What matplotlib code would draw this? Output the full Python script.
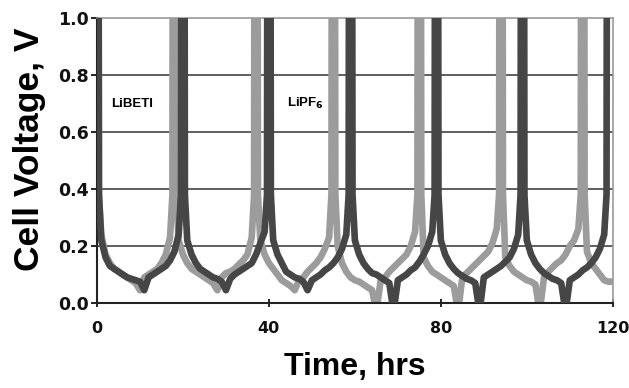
import matplotlib
matplotlib.use("Agg")
import matplotlib.pyplot as plt

# LiBETI (dark) - time in hrs, cell voltage in V
t_libeti = [0, 0.35, 0.45, 1, 2, 3, 4, 5, 6, 7, 8, 9, 10, 11, 12, 13, 14, 15, 16, 17, 18, 19,
	19.55, 19.65, 20.35, 20.45, 21, 22, 23, 24, 25, 26, 27, 28, 29, 30, 31, 32, 33, 34, 35, 36, 37, 38, 39,
	39.55, 39.65, 40.35, 40.45, 41, 42, 43, 44, 45, 46, 47, 48, 49, 50, 51, 52, 53, 54, 55, 56, 57, 58,
	58.55, 58.65, 59.35, 59.45, 60, 61, 62, 63, 64, 65, 66, 67, 68, 69, 70, 71, 72, 73, 74, 75, 76, 77, 78,
	78.55, 78.65, 79.35, 79.45, 80, 81, 82, 83, 84, 85, 86, 87, 88, 89, 90, 91, 92, 93, 94, 95, 96, 97, 98,
	98.55, 98.65, 99.35, 99.45, 100, 101, 102, 103, 104, 105, 106, 107, 108, 109, 110, 111, 112, 113, 114, 115, 116, 117, 118,
	118.55, 118.65, 120]
v_libeti = [1.6, 1.6, 0.38, 0.22, 0.16, 0.13, 0.12, 0.11, 0.10, 0.09, 0.085, 0.08, 0.075, 0.045, 0.09, 0.10, 0.11, 0.12, 0.13, 0.15, 0.18, 0.24,
	0.38, 1.6, 1.6, 0.38, 0.22, 0.17, 0.14, 0.12, 0.11, 0.10, 0.09, 0.085, 0.075, 0.045, 0.085, 0.10, 0.11, 0.12, 0.13, 0.14, 0.17, 0.21, 0.25,
	0.38, 1.6, 1.6, 0.38, 0.22, 0.17, 0.14, 0.11, 0.10, 0.09, 0.085, 0.075, 0.045, 0.08, 0.09, 0.10, 0.115, 0.125, 0.14, 0.16, 0.19, 0.24,
	0.38, 1.6, 1.6, 0.38, 0.22, 0.17, 0.14, 0.12, 0.105, 0.10, 0.09, 0.08, 0.07, -0.03, 0.08, 0.09, 0.10, 0.115, 0.125, 0.145, 0.17, 0.20, 0.25,
	0.38, 1.6, 1.6, 0.38, 0.22, 0.17, 0.14, 0.12, 0.105, 0.095, 0.085, 0.08, 0.07, -0.03, 0.09, 0.10, 0.11, 0.12, 0.13, 0.145, 0.16, 0.19, 0.24,
	0.38, 1.6, 1.6, 0.38, 0.22, 0.17, 0.14, 0.12, 0.105, 0.095, 0.085, 0.08, 0.07, -0.03, 0.08, 0.09, 0.10, 0.115, 0.125, 0.14, 0.16, 0.19, 0.24,
	0.38, 1.6, 1.6]

# LiPF6 (light)
t_lipf6 = [0, 0.35, 0.45, 1, 2, 3, 4, 5, 6, 7, 8, 9, 10, 11, 12, 13, 14, 15, 16, 17,
	17.55, 17.65, 18.35, 18.45, 19, 20, 21, 22, 23, 24, 25, 26, 27, 28, 29, 30, 31, 32, 33, 34, 35, 36,
	36.55, 36.65, 37.35, 37.45, 38, 39, 40, 41, 42, 43, 44, 45, 46, 47, 48, 49, 50, 51, 52, 53, 54,
	54.55, 54.65, 55.35, 55.45, 56, 57, 58, 59, 60, 61, 62, 63, 64, 65, 66, 67, 68, 69, 70, 71, 72, 73, 74,
	74.55, 74.65, 75.35, 75.45, 76, 77, 78, 79, 80, 81, 82, 83, 84, 85, 86, 87, 88, 89, 90, 91, 92, 93,
	93.55, 93.65, 94.35, 94.45, 95, 96, 97, 98, 99, 100, 101, 102, 103, 104, 105, 106, 107, 108, 109, 110, 111, 112,
	112.55, 112.65, 113.35, 113.45, 114, 115, 116, 117, 118, 119, 120]
v_lipf6 = [1.6, 1.6, 0.38, 0.24, 0.17, 0.14, 0.12, 0.11, 0.10, 0.09, 0.08, 0.07, 0.045, 0.09, 0.10, 0.11, 0.12, 0.14, 0.17, 0.23,
	0.38, 1.6, 1.6, 0.38, 0.22, 0.17, 0.14, 0.12, 0.11, 0.10, 0.09, 0.08, 0.07, 0.045, 0.09, 0.105, 0.11, 0.12, 0.135, 0.15, 0.17, 0.23,
	0.38, 1.6, 1.6, 0.38, 0.22, 0.17, 0.14, 0.12, 0.10, 0.08, 0.07, 0.06, 0.045, 0.08, 0.09, 0.11, 0.125, 0.14, 0.16, 0.19, 0.23,
	0.38, 1.6, 1.6, 0.38, 0.20, 0.14, 0.11, 0.09, 0.08, 0.075, 0.065, 0.055, 0.045, -0.03, 0.08, 0.09, 0.11, 0.125, 0.14, 0.155, 0.17, 0.20, 0.25,
	0.38, 1.6, 1.6, 0.38, 0.16, 0.13, 0.11, 0.10, 0.09, 0.08, 0.07, 0.06, -0.03, 0.09, 0.105, 0.12, 0.135, 0.15, 0.165, 0.18, 0.21, 0.26,
	0.38, 1.6, 1.6, 0.38, 0.16, 0.13, 0.11, 0.10, 0.09, 0.08, 0.075, 0.065, -0.03, 0.09, 0.11, 0.125, 0.14, 0.15, 0.17, 0.20, 0.22, 0.26,
	0.38, 1.6, 1.6, 0.38, 0.18, 0.14, 0.12, 0.10, 0.08, 0.075, 0.075]

xticks = [0, 40, 80, 120]
yticks = [0.0, 0.2, 0.4, 0.6, 0.8, 1.0]

fig = plt.figure(figsize=(6.29, 3.88), dpi=100)
ax = fig.add_axes([0.1542, 0.219, 0.820, 0.7345])

for y in yticks[1:-1]:
	ax.axhline(y, color="#333333", lw=1.1, zorder=1)

ax.plot(t_lipf6, v_lipf6, color="#9c9c9c", lw=4.8, solid_joinstyle="round", zorder=2)
ax.plot(t_libeti, v_libeti, color="#464646", lw=4.8, solid_joinstyle="round", zorder=3)

ax.set_xlim(0, 120)
ax.set_ylim(0, 1.0)
ax.set_xticks(xticks)
ax.set_yticks(yticks)
ax.set_xticklabels([str(x) for x in xticks])
ax.set_yticklabels([f"{y:.1f}" for y in yticks])

for s in ["top", "right"]:
	ax.spines[s].set_color("#9a9a9a")
	ax.spines[s].set_linewidth(1.2)
for s in ["left", "bottom"]:
	ax.spines[s].set_color("#222222")
	ax.spines[s].set_linewidth(1.5)

ax.tick_params(axis="x", direction="inout", length=6, width=1.2, pad=10, labelsize=11.5)
ax.tick_params(axis="y", direction="out", length=4, width=1.2, pad=2, labelsize=12.5)
for lab in ax.get_xticklabels() + ax.get_yticklabels():
	lab.set_fontfamily("DejaVu Sans")
	lab.set_fontweight("bold")
	lab.set_color("#111111")

ax.set_xlabel("Time, hrs", family="Liberation Sans", fontweight="bold", fontsize=23)
ax.set_ylabel("Cell Voltage, V", family="Liberation Sans", fontweight="bold", fontsize=25.5)
ax.xaxis.set_label_coords(0.5, -0.225)
ax.xaxis.label.set_va("center")
ax.yaxis.set_label_coords(-0.13, 0.54)
ax.yaxis.label.set_va("center")

ax.text(8.2, 0.70, "LiBETI", family="Liberation Sans", fontweight="bold", fontsize=9.5, ha="center", va="center")
ax.text(48.6, 0.70, "LiPF$_\\mathbf{6}$", family="Liberation Sans", fontweight="bold", fontsize=9.5, ha="center", va="center")

fig.savefig("out.png", dpi=100)
